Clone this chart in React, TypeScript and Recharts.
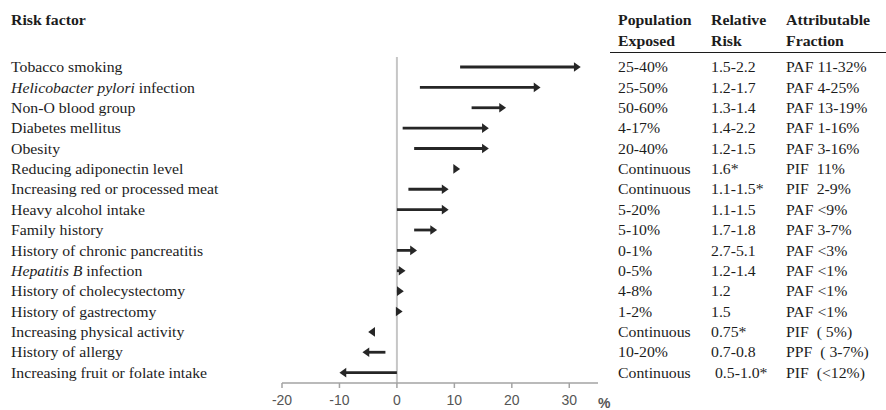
import { ComposedChart, Bar, XAxis, YAxis, CartesianGrid } from 'recharts';

const factors = [
  'Tobacco smoking',
  'Helicobacter pylori infection',
  'Non-O blood group',
  'Diabetes mellitus',
  'Obesity',
  'Reducing adiponectin level',
  'Increasing red or processed meat',
  'Heavy alcohol intake',
  'Family history',
  'History of chronic pancreatitis',
  'Hepatitis B infection',
  'History of cholecystectomy',
  'History of gastrectomy',
  'Increasing physical activity',
  'History of allergy',
  'Increasing fruit or folate intake',
];

// part of the label set in italics
const italicParts: Record<string, string> = {
  'Helicobacter pylori infection': 'Helicobacter pylori',
  'Hepatitis B infection': 'Hepatitis B',
};

// arrow tail -> tip, in %
const arrowStart = [11, 4, 13, 1, 3, 10, 2, 0, 3, 0, 0, 0, 0, -4, -2, 0];
const arrowEnd = [32, 25, 19, 16, 16, 11, 9, 9, 7, 3.5, 1.5, 1.2, 1, -5, -6, -10];

const popExposed = [
  '25-40%', '25-50%', '50-60%', '4-17%', '20-40%', 'Continuous', 'Continuous', '5-20%',
  '5-10%', '0-1%', '0-5%', '4-8%', '1-2%', 'Continuous', '10-20%', 'Continuous',
];
const relRisk = [
  '1.5-2.2', '1.2-1.7', '1.3-1.4', '1.4-2.2', '1.2-1.5', '1.6*', '1.1-1.5*', '1.1-1.5',
  '1.7-1.8', '2.7-5.1', '1.2-1.4', '1.2', '1.5', '0.75*', '0.7-0.8', ' 0.5-1.0*',
];
const attrFraction = [
  'PAF 11-32%', 'PAF 4-25%', 'PAF 13-19%', 'PAF 1-16%', 'PAF 3-16%', 'PIF  11%', 'PIF  2-9%', 'PAF <9%',
  'PAF 3-7%', 'PAF <3%', 'PAF <1%', 'PAF <1%', 'PAF <1%', 'PIF  ( 5%)', 'PPF  ( 3-7%)', 'PIF  (<12%)',
];

const xDomain = [-20, 35];
const xTicks = [-20, -10, 0, 10, 20, 30];

const data = factors.map((name, i) => ({
  name,
  start: arrowStart[i],
  end: arrowEnd[i],
  range: [arrowStart[i], arrowEnd[i]],
}));

const SERIF = '"Liberation Serif", "Times New Roman", serif';
const SANS = '"Liberation Sans", Arial, sans-serif';
const INK = '#1c1c1c';
const ARROW = '#262626';

// the source type is a bit wide for its height, so stretch it
const StretchText = ({ x, y, bold, children }: { x: number; y: number; bold?: boolean; children: React.ReactNode }) => (
  <text
    transform={`translate(${x},${y}) scale(1.16,1)`}
    fontFamily={SERIF}
    fontSize={13.6}
    fontWeight={bold ? 700 : 400}
    fill={INK}
    style={{ whiteSpace: 'pre' }}
  >
    {children}
  </text>
);

const FactorTick = ({ y, payload }: any) => {
  const label: string = payload.value;
  const it = italicParts[label];
  return (
    <StretchText x={11} y={y + 5}>
      {it ? (
        <>
          <tspan fontStyle="italic">{it}</tspan>
          {label.slice(it.length)}
        </>
      ) : (
        label
      )}
    </StretchText>
  );
};

const TableTick = ({ y, payload }: any) => {
  const i = factors.indexOf(payload.value);
  if (i < 0) return null;
  return (
    <g>
      <StretchText x={618} y={y + 5}>{popExposed[i]}</StretchText>
      <StretchText x={711} y={y + 5}>{relRisk[i]}</StretchText>
      <StretchText x={786} y={y + 5}>{attrFraction[i]}</StretchText>
    </g>
  );
};

const ArrowShape = (props: any) => {
  const { x, y, width, height, payload } = props;
  if (x == null || y == null) return null;
  const cy = y + height / 2;
  const a = x;
  const b = x + width;
  const dir = payload.end >= payload.start ? 1 : -1;
  const tail = dir > 0 ? Math.min(a, b) : Math.max(a, b);
  const tip = dir > 0 ? Math.max(a, b) : Math.min(a, b);
  const head = 6.8;
  const hw = 4.8;
  const base = tip - dir * head;
  return (
    <g>
      {(base - tail) * dir > 0 && (
        <line x1={tail} y1={cy} x2={base + dir} y2={cy} stroke={ARROW} strokeWidth={2.8} />
      )}
      <polygon points={`${tip},${cy} ${base},${cy - hw} ${base},${cy + hw}`} fill={ARROW} />
    </g>
  );
};

// zero line drawn as a grid line so it sits behind the arrows
const zeroLine = (props: any) => {
  const ax = props?.xAxis;
  if (ax && typeof ax.scale === 'function') return [ax.scale(0)];
  const off = props?.offset;
  if (!off) return [];
  return [off.left + ((0 - xDomain[0]) / (xDomain[1] - xDomain[0])) * off.width];
};

export default function App() {
  return (
    <div style={{ position: 'absolute', left: 0, top: 0, width: 886, height: 410, background: '#fff' }}>
      <ComposedChart
        width={886}
        height={410}
        data={data}
        layout="vertical"
        margin={{ top: 57, right: 0, bottom: 0, left: 0 }}
      >
        <CartesianGrid
          horizontal={false}
          verticalCoordinatesGenerator={zeroLine}
          stroke="#c6c6c6"
          strokeWidth={2}
        />
        <XAxis
          type="number"
          domain={xDomain}
          ticks={xTicks}
          height={27}
          axisLine={{ stroke: '#a3a3a3', strokeWidth: 1.5 }}
          tickLine={{ stroke: '#a3a3a3', strokeWidth: 1.5 }}
          tickSize={5}
          tickMargin={7}
          tick={{ fill: '#555', fontSize: 14, fontFamily: SANS }}
        />
        <YAxis
          type="category"
          dataKey="name"
          width={282}
          axisLine={false}
          tickLine={false}
          interval={0}
          tick={<FactorTick />}
        />
        <YAxis
          yAxisId="right"
          orientation="right"
          type="category"
          dataKey="name"
          width={288}
          axisLine={false}
          tickLine={false}
          interval={0}
          tick={<TableTick />}
        />
        <Bar dataKey="range" barSize={8} shape={ArrowShape} isAnimationActive={false} />
      </ComposedChart>
      <svg
        width={886}
        height={410}
        style={{ position: 'absolute', left: 0, top: 0, pointerEvents: 'none' }}
      >
        <StretchText x={11} y={25} bold>Risk factor</StretchText>
        <StretchText x={618} y={25} bold>Population</StretchText>
        <StretchText x={618} y={46} bold>Exposed</StretchText>
        <StretchText x={711} y={25} bold>Relative</StretchText>
        <StretchText x={711} y={46} bold>Risk</StretchText>
        <StretchText x={786} y={25} bold>Attributable</StretchText>
        <StretchText x={786} y={46} bold>Fraction</StretchText>
        <line x1={610} y1={52.5} x2={886} y2={52.5} stroke={INK} strokeWidth={1.2} />
        <text x={598} y={408} fontFamily={SANS} fontSize={14} fontWeight={700} fill="#555">%</text>
      </svg>
    </div>
  );
}
